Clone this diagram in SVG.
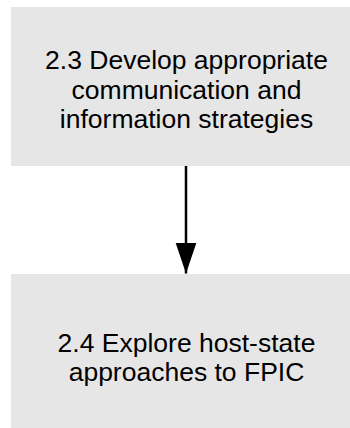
<svg xmlns="http://www.w3.org/2000/svg" width="350" height="428" viewBox="0 0 350 428">
  <style>
    .box { fill: #e6e6e6; stroke: none; }
    .label { font-family: "Liberation Sans", Arial, sans-serif; font-size: 26.5px; fill: #000; text-anchor: middle; }
    .edge { stroke: #000; stroke-width: 2.5; fill: none; }
  </style>
  <defs>
    <marker id="arrowhead" markerUnits="userSpaceOnUse" markerWidth="32" markerHeight="22" refX="31" refY="10.5" orient="auto">
      <path d="M0,0 L31,10.5 L0,21 Z" fill="#000"/>
    </marker>
  </defs>
  <rect width="350" height="428" fill="#fff"/>
  <g id="node-2-3">
    <rect class="box" x="11" y="7" width="351" height="159"/>
    <text class="label" x="186.5" y="69">2.3 Develop appropriate</text>
    <text class="label" x="186.5" y="98.5">communication and</text>
    <text class="label" x="186.5" y="128">information strategies</text>
  </g>
  <g id="node-2-4">
    <rect class="box" x="11" y="274" width="351" height="154"/>
    <text class="label" x="186.5" y="351.5">2.4 Explore host-state</text>
    <text class="label" x="186.5" y="380.5">approaches to FPIC</text>
  </g>
  <g id="connectors">
    <line class="edge" x1="186" y1="166" x2="186" y2="273.5" marker-end="url(#arrowhead)"/>
  </g>
</svg>
